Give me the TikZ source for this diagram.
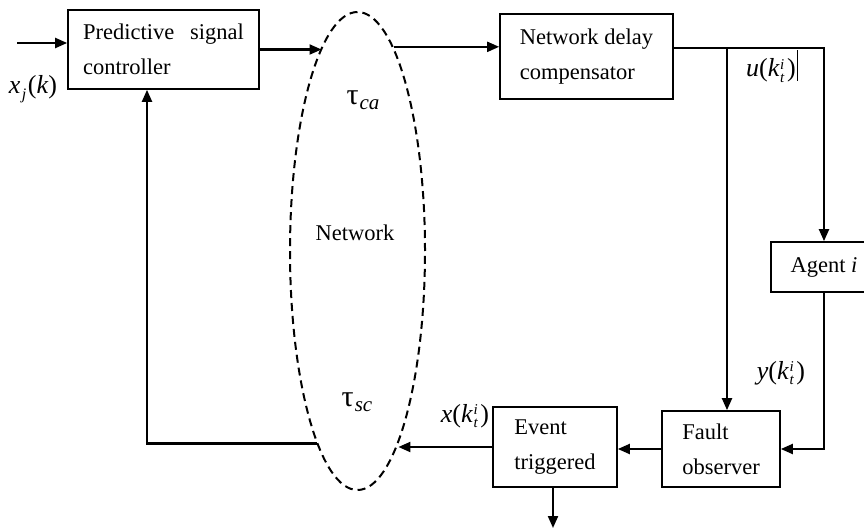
\documentclass[tikz,border=0pt]{standalone}
\usepackage{fontspec}
\setmainfont{Liberation Serif}
\usetikzlibrary{arrows.meta,shapes.geometric}

% k with stacked super- and subscript
\newcommand\kti{\textit{k}\kern0.5pt\rlap{\raisebox{0.62ex}{\fontsize{15}{15}\selectfont\textit{i}}}%
  \raisebox{-0.45ex}{\fontsize{15}{15}\selectfont\textit{t}}\kern2.5pt}

\begin{document}
\begin{tikzpicture}[x=1pt,y=-1pt,
  blk/.style={draw,line width=1.7pt,align=left,inner sep=0pt,
    font=\fontsize{22.5}{35}\selectfont},
  wire/.style={line width=2.1pt},
  arr/.style={wire,-{Triangle[length=12pt,width=10pt]}},
  lbl/.style={font=\fontsize{26}{30}\selectfont,inner sep=0pt},
  txt/.style={font=\fontsize{22.5}{28}\selectfont,inner sep=0pt}]

\clip (0,0) rectangle (864,529);

% blocks
\node[blk,minimum width=191,minimum height=79] (pred) at (163.5,49.5)
  {Predictive\hspace{0.7em}signal\\controller};
\node[blk,minimum width=173,minimum height=85] (comp) at (586.5,56.5)
  {Network delay\\compensator};
\node[blk,minimum width=106,minimum height=50] (agent) at (824,267)
  {Agent \textit{i}};
\node[blk,minimum width=118,minimum height=76] (fault) at (721,449)
  {Fault\\observer};
\node[blk,minimum width=124,minimum height=80] (event) at (555,447)
  {Event\\triggered};

% network cloud
\node[draw,ellipse,line width=2pt,dash pattern=on 8pt off 5pt,
  minimum width=135,minimum height=478,inner sep=0pt] (net) at (357.5,251) {};
\node[txt] (nettxt) at (355,233) {Network};
\node[txt,font=\fontsize{30}{32}\selectfont] (tca) at (363,100)
  {τ\kern1pt\raisebox{-0.4ex}{\fontsize{21}{22}\selectfont\textit{ca}}};
\node[txt,font=\fontsize{30}{32}\selectfont] (tsc) at (357,402)
  {τ\kern1pt\raisebox{-0.4ex}{\fontsize{21}{22}\selectfont\textit{sc}}};

% free ends and branch points
\coordinate (in) at (17,43);
\coordinate (cr) at (824,48);
\coordinate (br) at (727,48);
\coordinate (fb) at (147,444);
\coordinate (evout) at (553,528);

% connectors
\draw[arr] (in) -- (in -| pred.west);
\draw[arr] (pred.east) -- (pred.east -| net.100);
\draw[arr] (net.80) -- (net.80 -| comp.west);
\draw[arr] (comp.east |- cr) -- (cr) -- (agent.north);
\draw[arr] (br) -- (br |- fault.north);
\draw[arr] (agent.south) -- (agent.south |- fault.east) -- (fault.east);
\draw[arr] (fault.west) -- (fault.west -| event.east);
\draw[arr] (event.west) -- (event.west -| net.-78.4);
\draw[arr] (event.south -| evout) -- (evout);
\draw[arr] (net.258.4) -- (net.258.4 -| fb) -- (fb |- pred.south);

% signal labels
\node[lbl] (xj) at (33,89)
  {\textit{x}\kern1.5pt\raisebox{-0.55ex}{\fontsize{16}{16}\selectfont\textit{j}}\kern1.5pt(\textit{k})};
\node[lbl] (ulbl) at (772,66) {\textit{u}(\kti)\kern1pt\rule[-0.35ex]{1pt}{1.2em}};
\node[lbl] (ylbl) at (781,373) {\textit{y}(\kti)};
\node[lbl] (xlbl) at (465,416) {\textit{x}(\kti)};

\end{tikzpicture}
\end{document}
